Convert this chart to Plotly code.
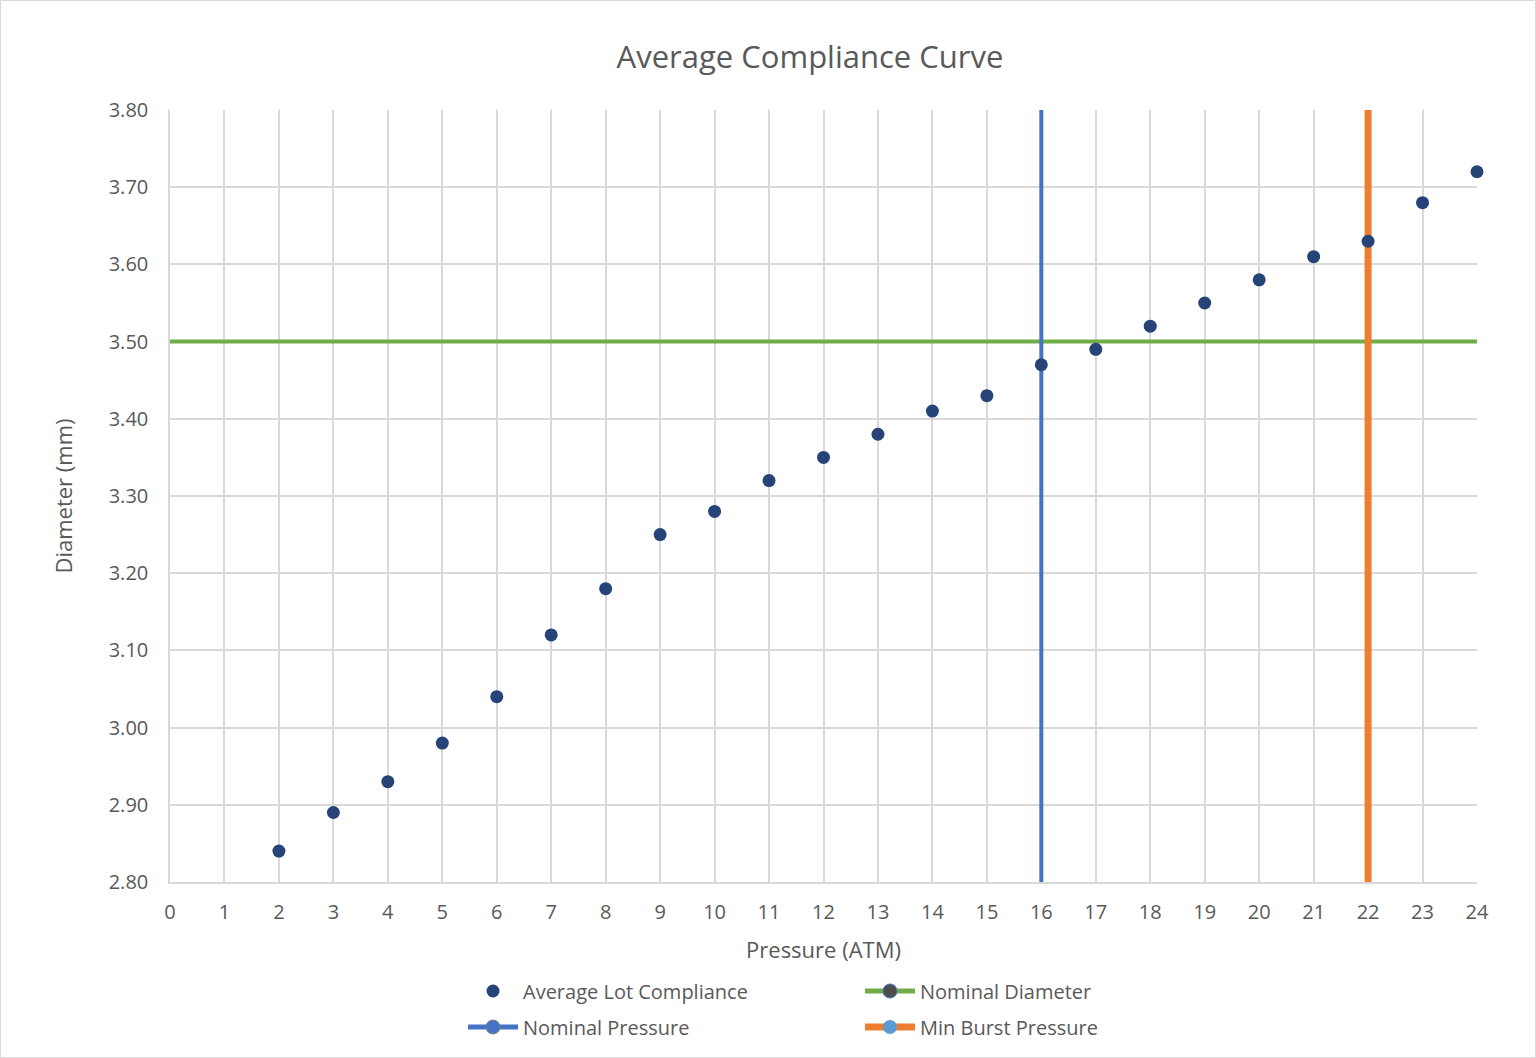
import plotly.graph_objects as go

pressure = list(range(2, 25))
diameter = [2.84, 2.89, 2.93, 2.98, 3.04, 3.12, 3.18, 3.25, 3.28, 3.32, 3.35, 3.38,
            3.41, 3.43, 3.47, 3.49, 3.52, 3.55, 3.58, 3.61, 3.63, 3.68, 3.72]
nominal_diameter = 3.50
nominal_pressure = 16
min_burst_pressure = 22
x_range = [0, 24]
y_range = [2.80, 3.80]

W, H = 1536, 1058
L, R, T, B = 170, 59, 110, 176
pw, ph = W - L - R, H - T - B

FONT = "Open Sans"
GRAY = "#595959"

fig = go.Figure()

# Actual reference lines (no legend)
fig.add_trace(go.Scatter(x=x_range, y=[nominal_diameter] * 2, mode="lines",
                         line=dict(color="#70AD47", width=4), showlegend=False, hoverinfo="skip"))
fig.add_trace(go.Scatter(x=[nominal_pressure] * 2, y=y_range, mode="lines",
                         line=dict(color="#4472C4", width=4), showlegend=False, hoverinfo="skip"))
fig.add_trace(go.Scatter(x=[min_burst_pressure] * 2, y=y_range, mode="lines",
                         line=dict(color="#ED7D31", width=7), showlegend=False, hoverinfo="skip"))

# Data
fig.add_trace(go.Scatter(x=pressure, y=diameter, mode="markers", name="Average Lot Compliance",
                         marker=dict(color="#264478", size=13), cliponaxis=False,
                         legend="legend", legendrank=1))

# Legend-only entries
fig.add_trace(go.Scatter(x=[None], y=[None], mode="lines+markers", name="Nominal Diameter",
                         line=dict(color="#70AD47", width=5),
                         marker=dict(color="#4d4d4d", size=14, line=dict(color="#4472C4", width=1)),
                         legend="legend", legendrank=2))
fig.add_trace(go.Scatter(x=[None], y=[None], mode="lines+markers", name="Nominal Pressure",
                         line=dict(color="#4472C4", width=5),
                         marker=dict(color="#4472C4", size=14, line=dict(color="#7f7f7f", width=1)),
                         legend="legend2", legendrank=3))
fig.add_trace(go.Scatter(x=[None], y=[None], mode="lines+markers", name="Min Burst Pressure",
                         line=dict(color="#ED7D31", width=7),
                         marker=dict(color="#5B9BD5", size=14),
                         legend="legend2", legendrank=4))

# Figure border
fig.add_shape(type="rect", xref="paper", yref="paper",
              x0=(0.5 - L) / pw, x1=(W - 0.5 - L) / pw,
              y0=-(H - 0.5 - T - ph) / ph, y1=1 + (T - 0.5) / ph,
              line=dict(color="#d9d9d9", width=1), fillcolor="rgba(0,0,0,0)", layer="below")

legend_common = dict(orientation="h", x=(463 - L) / pw, xanchor="left", yanchor="middle",
                     entrywidth=332, entrywidthmode="pixels",
                     font=dict(size=20, color=GRAY), bgcolor="rgba(0,0,0,0)",
                     itemwidth=50)

fig.update_layout(
    width=W, height=H,
    margin=dict(l=L, r=R, t=T, b=B),
    paper_bgcolor="white", plot_bgcolor="white",
    font=dict(family=FONT, color=GRAY, size=20),
    title=dict(text="Average Compliance Curve", x=(810 - L) / pw, xref="paper", xanchor="center",
               y=1 - 57 / H, yanchor="middle", font=dict(size=31, color=GRAY, family=FONT)),
    xaxis=dict(range=x_range, dtick=1, tick0=0, showgrid=True, gridcolor="#d9d9d9", gridwidth=1.5,
               showline=True, linecolor="#d9d9d9", linewidth=1.5, zeroline=False,
               ticks="", tickfont=dict(size=20, color=GRAY), ticklabelstandoff=11,
               title=dict(text="Pressure (ATM)", font=dict(size=22, color=GRAY), standoff=19)),
    yaxis=dict(range=y_range, dtick=0.1, tick0=2.8, tickformat=".2f", showgrid=True,
               gridcolor="#d9d9d9", gridwidth=1.5, showline=True, linecolor="#d9d9d9",
               linewidth=1.5, zeroline=False, ticks="", tickfont=dict(size=20, color=GRAY),
               ticklabelstandoff=16,
               title=dict(text="Diameter (mm)", font=dict(size=22, color=GRAY), standoff=30)),
    legend=dict(**legend_common, y=-(991 - T - ph) / ph),
    legend2=dict(**legend_common, y=-(1027 - T - ph) / ph),
    showlegend=True,
)

fig.write_html("out.html")
